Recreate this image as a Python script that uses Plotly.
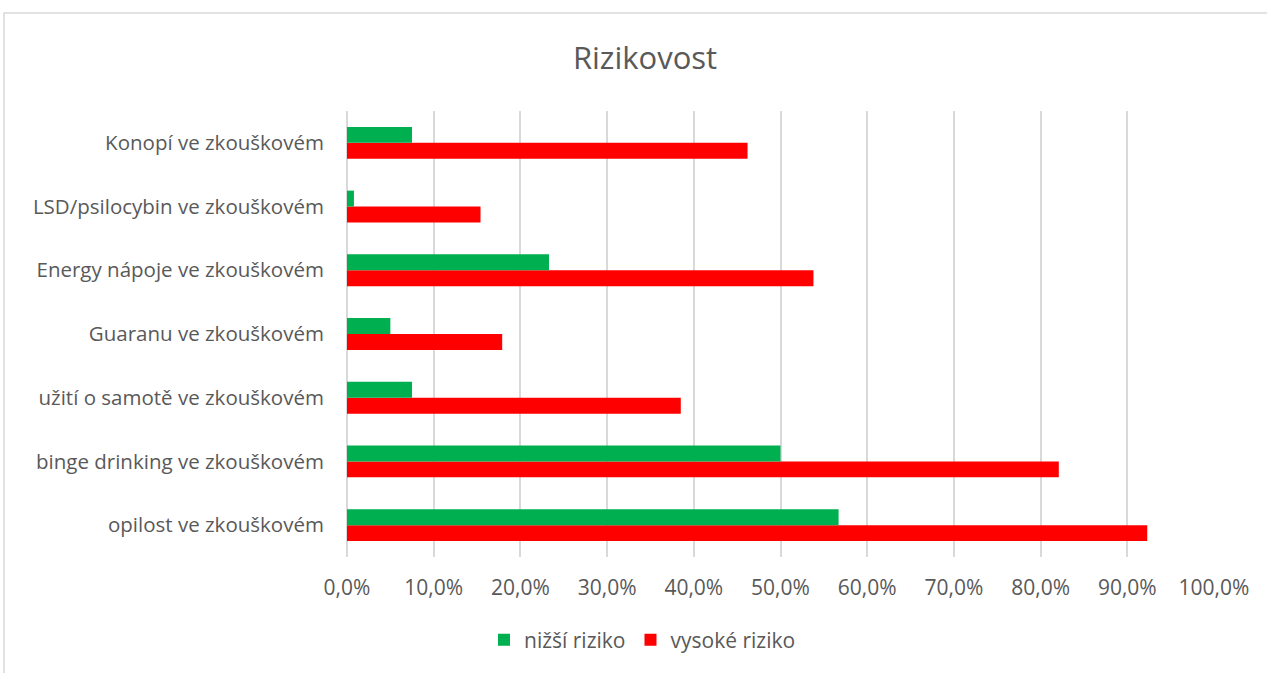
import plotly.graph_objects as go

categories = [
    "opilost ve zkouškovém",
    "binge drinking ve zkouškovém",
    "užití o samotě ve zkouškovém",
    "Guaranu ve zkouškovém",
    "Energy nápoje ve zkouškovém",
    "LSD/psilocybin ve zkouškovém",
    "Konopí ve zkouškovém",
]
nizsi_riziko = [0.567, 0.500, 0.075, 0.050, 0.233, 0.008, 0.075]
vysoke_riziko = [0.923, 0.821, 0.385, 0.179, 0.538, 0.154, 0.462]
x_ticks = [0, 0.1, 0.2, 0.3, 0.4, 0.5, 0.6, 0.7, 0.8, 0.9, 1.0]

FONT = "Open Sans"
TXT = "#595959"
GRID = "#d9d9d9"

fig = go.Figure()
fig.add_trace(go.Bar(y=categories, x=vysoke_riziko, orientation="h",
                     name="vysoké riziko", marker=dict(color="#ff0000", line=dict(width=0))))
fig.add_trace(go.Bar(y=categories, x=nizsi_riziko, orientation="h",
                     name="nižší riziko", marker=dict(color="#00b050", line=dict(width=0))))

W, H = 1267, 673
L, R, T, B = 347, 53, 111, 116
pw, ph = W - L - R, H - T - B

def px_x(px):
    return (px - L) / pw

def px_y(py):
    return (H - B - py) / ph

fig.update_layout(
    width=W, height=H,
    margin=dict(l=L, r=R, t=T, b=B),
    paper_bgcolor="white", plot_bgcolor="white",
    barmode="group", bargap=0.5, bargroupgap=0,
    separators=", ",
    font=dict(family=FONT, color=TXT, size=20),
    title=dict(text="Rizikovost", x=px_x(645), xanchor="center", xref="paper",
               y=1 - 58 / H, yanchor="middle",
               font=dict(family=FONT, size=31, color=TXT)),
    legend=dict(orientation="h", x=px_x(484), xanchor="left", y=px_y(640), yanchor="middle",
                traceorder="reversed",
                font=dict(size=21, color=TXT)),
    showlegend=True,
    xaxis=dict(range=[0, 1], tickvals=x_ticks, tickformat=".1%", showgrid=True,
               gridcolor=GRID, gridwidth=1.5, zeroline=True, zerolinecolor=GRID,
               zerolinewidth=1.5, showline=False, ticks="outside", ticklen=12,
               tickcolor="rgba(0,0,0,0)", tickfont=dict(size=21, color=TXT), fixedrange=True),
    yaxis=dict(showgrid=False, zeroline=False, showline=False, ticks="outside",
               ticklen=18, tickcolor="rgba(0,0,0,0)", tickfont=dict(size=20.5, color=TXT)),
    shapes=[dict(type="rect", xref="paper", yref="paper",
                 x0=px_x(4), x1=px_x(1290), y0=px_y(13), y1=px_y(700),
                 line=dict(color=GRID, width=1.5), fillcolor="rgba(0,0,0,0)", layer="below")],
)

fig.write_html("out.html")
